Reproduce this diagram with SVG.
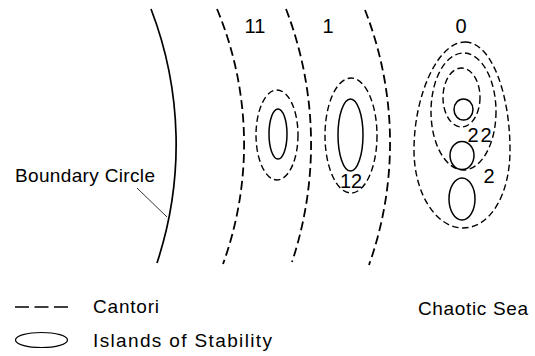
<svg xmlns="http://www.w3.org/2000/svg" width="535" height="356" viewBox="0 0 535 356">
<style>
text{font-family:"Liberation Sans",Arial,sans-serif;font-size:20px;fill:#000}
.lbl{font-size:19px}
.num{text-anchor:middle}
.solid{fill:none;stroke:#000;stroke-width:1.5}
.cant{fill:none;stroke:#000;stroke-width:1.8;stroke-dasharray:9 4.5}
.dash{fill:none;stroke:#000;stroke-width:1.4;stroke-dasharray:6.5 3.5}
</style>
<rect width="535" height="356" fill="#fff"/>
<g id="boundary">
<path class="solid" style="stroke-width:1.7" d="M151,9 A377,377 0 0 1 157,263"/>
<text class="lbl" x="15" y="182" textLength="140" lengthAdjust="spacing">Boundary Circle</text>
</g>
<g id="cantori-arcs">
<path class="cant" d="M217,9 A351,351 0 0 1 223,264"/>
<path class="cant" d="M286,9 A375.5,375.5 0 0 1 292,262"/>
<path class="cant" d="M365,10 A365,365 0 0 1 369,265"/>
</g>
<g id="island-11">
<ellipse class="dash" cx="277" cy="135" rx="21" ry="45"/>
<ellipse class="solid" cx="278" cy="134" rx="9" ry="25"/>
<text class="num" x="255" y="33">11</text>
</g>
<g id="island-1">
<ellipse class="dash" cx="351" cy="135.5" rx="26" ry="57.5"/>
<ellipse class="solid" cx="350.5" cy="135" rx="12.5" ry="36"/>
<text class="num" x="328" y="33">1</text>
<text class="num" x="351" y="188">12</text>
</g>
<g id="island-0">
<path class="dash" d="M465,42 C492,42 510,95 510,150 C510,195 490,228 463,228 C437,228 414,195 414,150 C414,95 438,42 465,42 Z"/>
<ellipse class="dash" cx="463.5" cy="111.5" rx="32.5" ry="58.5"/>
<ellipse class="dash" cx="461.5" cy="97.5" rx="18.5" ry="29.5"/>
<ellipse class="solid" cx="463.5" cy="109.5" rx="9.5" ry="10.5"/>
<ellipse class="solid" cx="462" cy="155.5" rx="12" ry="14"/>
<ellipse class="solid" cx="462" cy="199" rx="13" ry="21"/>
<text class="num" x="461" y="33">0</text>
<text class="num" x="473" y="142">2</text>
<text class="num" x="486" y="142">2</text>
<text class="num" x="489" y="183">2</text>
</g>
<g id="connectors">
<line x1="137" y1="188" x2="167" y2="217" stroke="#000" stroke-width="0.8"/>
</g>
<g id="legend">
<line x1="15" y1="307" x2="68" y2="307" stroke="#000" stroke-width="1.4" stroke-dasharray="14 5.5"/>
<text class="lbl" x="93" y="313" textLength="66" lengthAdjust="spacing">Cantori</text>
<ellipse class="solid" cx="41.5" cy="340" rx="26" ry="7.5" style="stroke-width:1.2"/>
<text class="lbl" x="93" y="347" textLength="179" lengthAdjust="spacing">Islands of Stability</text>
</g>
<g id="chaotic-sea">
<text class="lbl" x="418" y="315" textLength="110" lengthAdjust="spacing">Chaotic Sea</text>
</g>
</svg>
